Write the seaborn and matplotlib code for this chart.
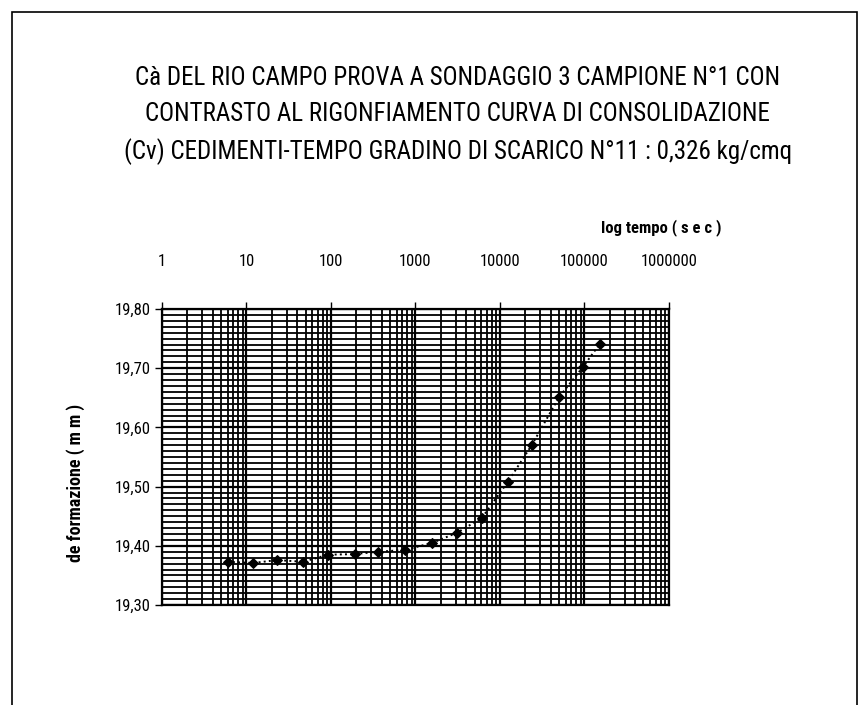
import matplotlib
matplotlib.use("Agg")
import matplotlib.pyplot as plt
import matplotlib.ticker as mticker
from matplotlib.patches import Rectangle
from matplotlib import font_manager
import seaborn as sns
import pandas as pd

# letture cedimenti-tempo (gradino di scarico n.11)
tempo_sec = [6, 12, 23, 47, 92, 190, 360, 750, 1580, 3100, 6100,
             12400, 24000, 50000, 96000, 152000]
deformazione_mm = [19.373, 19.371, 19.376, 19.373, 19.385, 19.386, 19.390,
                   19.393, 19.405, 19.422, 19.447, 19.508, 19.571, 19.651,
                   19.702, 19.741]

x_ticks = [1, 10, 100, 1000, 10000, 100000, 1000000]
x_ticklabels = ["1", "10", "100", "1000", "10000", "100000", "1000000"]
y_ticks = [19.30, 19.40, 19.50, 19.60, 19.70, 19.80]
y_ticklabels = ["19,30", "19,40", "19,50", "19,60", "19,70", "19,80"]

titolo = ("Cà DEL RIO CAMPO PROVA A SONDAGGIO 3 CAMPIONE N°1 CON\n"
          "CONTRASTO AL RIGONFIAMENTO CURVA DI CONSOLIDAZIONE\n"
          "(Cv) CEDIMENTI-TEMPO GRADINO DI SCARICO N°11 : 0,326 kg/cmq")

df = pd.DataFrame({"tempo": tempo_sec, "def": deformazione_mm})

sns.set_style("white")
nomi = {f.name for f in font_manager.fontManager.ttflist}
narrow = [n for n in ["Liberation Sans Narrow", "DejaVu Sans Condensed",
                      "Roboto Condensed"] if n in nomi] + ["DejaVu Sans"]
plt.rcParams["font.family"] = narrow
plt.rcParams["font.stretch"] = "condensed"
plt.rcParams["text.color"] = "black"
plt.rcParams["xtick.color"] = "black"
plt.rcParams["ytick.color"] = "black"

fig = plt.figure(figsize=(8.65, 7.05), dpi=100)
ax = fig.add_axes([0.1873, 0.1418, 0.586, 0.4199])

ax.set_xscale("log")
ax.set_xlim(1, 1000000)
ax.set_ylim(19.30, 19.80)

# griglia fitta tipo carta semilogaritmica
ax.xaxis.set_minor_locator(mticker.LogLocator(base=10, subs=range(2, 10)))
ax.yaxis.set_minor_locator(mticker.MultipleLocator(0.01))
ax.grid(True, which="major", color="black", linewidth=1.6)
ax.grid(True, which="minor", color="black", linewidth=1.3)
ax.set_axisbelow(True)

sns.lineplot(data=df, x="tempo", y="def", ax=ax, color="black",
             linestyle=":", linewidth=1.4, marker="D", markersize=5.5,
             markeredgecolor="black", markerfacecolor="black", zorder=5)

ax.xaxis.tick_top()
ax.xaxis.set_label_position("top")
ax.set_xticks(x_ticks)
ax.set_xticklabels(x_ticklabels, fontsize=12)
ax.set_yticks(y_ticks)
ax.set_yticklabels(y_ticklabels, fontsize=12)
ax.tick_params(axis="x", which="major", direction="out", length=5,
               width=1, pad=24, top=True, bottom=False)
ax.tick_params(axis="x", which="minor", length=0)
ax.tick_params(axis="y", which="major", direction="out", length=5,
               width=1, pad=3, left=True)
ax.tick_params(axis="y", which="minor", length=0)

for side in ["top", "bottom", "left", "right"]:
    ax.spines[side].set_color("black")
    ax.spines[side].set_linewidth(1.6)

ax.set_xlabel("")
ax.set_ylabel("")
fig.text(0.765, 0.677, "log tempo ( s e c )", fontsize=12, fontweight="bold",
         ha="center", va="center")
fig.text(0.087, 0.315, "de formazione ( m m )", fontsize=13,
         fontweight="bold", rotation=90, ha="center", va="center")

fig.text(0.529, 0.836, titolo, fontsize=18, ha="center", va="center",
         linespacing=1.62)

# cornice esterna
fig.patches.append(Rectangle((0.014, -0.01), 0.977, 0.993, fill=False,
                             edgecolor="black", linewidth=1.2,
                             transform=fig.transFigure, figure=fig))

fig.savefig("out.png", dpi=100)
